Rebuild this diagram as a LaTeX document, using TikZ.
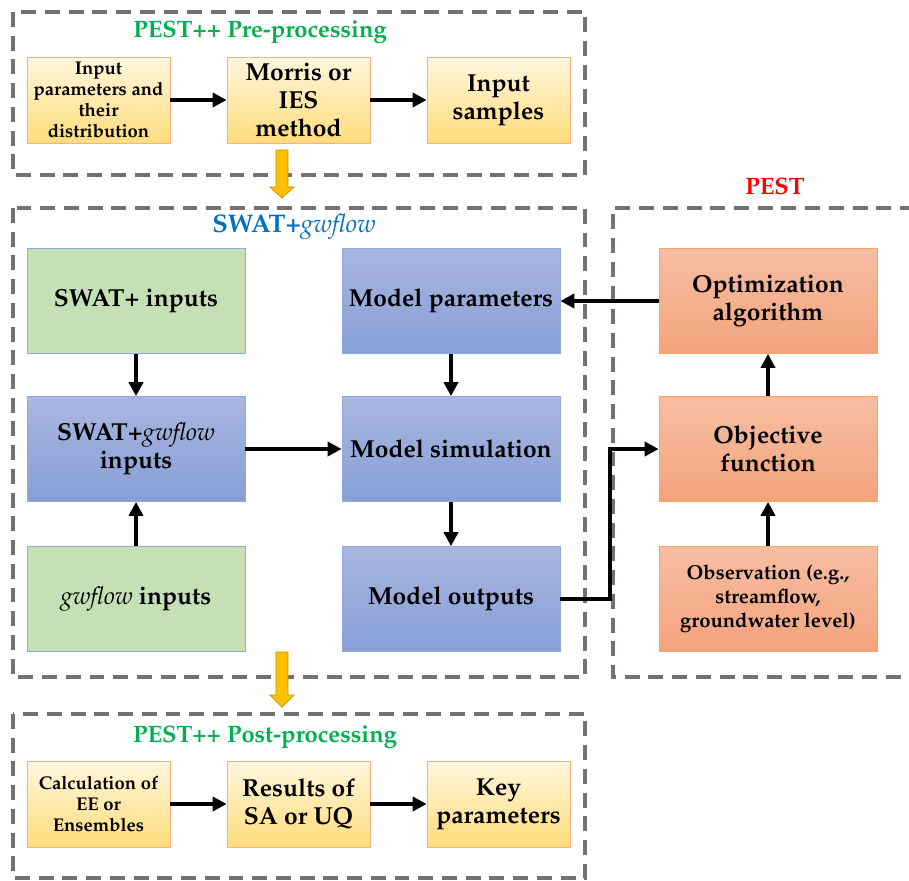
\documentclass[tikz,border=0pt]{standalone}
\usepackage[T1]{fontenc}
\usepackage{mathpazo}
\usetikzlibrary{arrows.meta}

\definecolor{yelTop}{HTML}{FFF6DC}
\definecolor{yelBot}{HTML}{FFDC7C}
\definecolor{yelLine}{HTML}{F4B183}
\definecolor{bluTop}{HTML}{A9B6DF}
\definecolor{bluBot}{HTML}{879ED7}
\definecolor{bluLine}{HTML}{8FAADC}
\definecolor{grnFill}{HTML}{C5E0B4}
\definecolor{orgTop}{HTML}{F6BEA3}
\definecolor{orgBot}{HTML}{F4A37C}
\definecolor{orgLine}{HTML}{F5A26B}
\definecolor{dashGray}{HTML}{767171}
\definecolor{arrowGold}{HTML}{FFC000}
\definecolor{arrowEdge}{HTML}{BF9000}
\definecolor{titleGreen}{HTML}{00B050}
\definecolor{titleBlue}{HTML}{0070C0}

\begin{document}
\begin{tikzpicture}[x=0.02cm,y=-0.02cm,
    >={Triangle[length=8pt,width=8pt]},
    flow/.style={->,line width=2.3pt},
    dashbox/.style={draw=dashGray,line width=2.3pt,dash pattern=on 8.5pt off 5pt},
    title/.style={font=\fontsize{13.5}{15}\selectfont\bfseries},
    smallbox/.style={draw=yelLine,top color=yelTop,bottom color=yelBot,minimum width=2.86cm,minimum height=1.72cm,align=center,inner sep=1pt},
    bigbox/.style={minimum width=4.36cm,minimum height=2.1cm,align=center,inner sep=1pt,font=\fontsize{14}{16}\selectfont\bfseries},
    greenbox/.style={bigbox,draw=bluLine,fill=grnFill},
    bluebox/.style={bigbox,draw=bluLine,top color=bluTop,bottom color=bluBot},
    orangebox/.style={bigbox,draw=orgLine,top color=orgTop,bottom color=orgBot},
    blockarrow/.style={fill=arrowGold,draw=arrowEdge,line width=0.4pt}]
    \useasboundingbox (0,0) rectangle (909,880);

    % dashed frames
    \draw[dashbox] (13,12) rectangle (585,175);
    \draw[dashbox] (13,208) rectangle (585,677);
    \draw[dashbox] (915,208) -- (613,208) -- (613,677) -- (915,677);
    \draw[dashbox] (13,714) rectangle (585,878);

    \node[title,text=titleGreen] (pretitle) at (260,32) {PEST++ Pre-processing};
    \node[title,text=titleBlue,font=\fontsize{14.5}{16}\selectfont\bfseries] (swattitle) at (294,227) {SWAT+\textit{\mdseries gwflow}};
    \node[title,text=red] (pesttitle) at (775,186) {PEST};
    \node[title,text=titleGreen] (posttitle) at (265,737) {PEST++ Post-processing};

    % pre-processing
    \node[smallbox,font=\fontsize{10.5}{12}\selectfont\bfseries] (inparams) at (98.5,100) {Input\\parameters and\\their\\distribution};
    \node[smallbox,font=\fontsize{14}{16}\selectfont\bfseries] (morris) at (298.5,100) {Morris or\\IES\\method};
    \node[smallbox,font=\fontsize{14}{16}\selectfont\bfseries] (samples) at (498.5,100) {Input\\samples};
    \draw[flow] (inparams) -- (morris);
    \draw[flow] (morris) -- (samples);

    % SWAT+gwflow
    \node[greenbox] (swatin) at (136,301) {SWAT+ inputs};
    \node[bluebox] (swatgw) at (136,449) {SWAT+\textit{\mdseries gwflow}\\inputs};
    \node[greenbox] (gwin) at (136,599) {\textit{\mdseries gwflow} inputs};
    \node[bluebox] (mparams) at (451,301) {Model parameters};
    \node[bluebox] (msim) at (451,449) {Model simulation};
    \node[bluebox] (mout) at (451,599) {Model outputs};
    \draw[flow] (swatin) -- (swatgw);
    \draw[flow] (gwin) -- (swatgw);
    \draw[flow] (swatgw) -- (msim);
    \draw[flow] (mparams) -- (msim);
    \draw[flow] (msim) -- (mout);

    % PEST
    \node[orangebox] (optim) at (768,301) {Optimization\\algorithm};
    \node[orangebox] (objfun) at (768,449) {Objective\\function};
    \node[orangebox,font=\fontsize{11.5}{13.6}\selectfont\bfseries] (obs) at (768,599) {Observation (e.g.,\\streamflow,\\groundwater level)};
    \draw[flow] (obs) -- (objfun);
    \draw[flow] (objfun) -- (optim);
    \draw[flow] (optim) -- (mparams);
    \draw[flow] (mout.east) -- ++(50,0) |- (objfun.west);

    % post-processing
    \node[smallbox,font=\fontsize{10.5}{12}\selectfont\bfseries] (calc) at (98.5,804) {Calculation of\\EE or\\Ensembles};
    \node[smallbox,font=\fontsize{14}{16}\selectfont\bfseries] (results) at (298.5,804) {Results of\\SA or UQ};
    \node[smallbox,font=\fontsize{14}{16}\selectfont\bfseries] (keypar) at (498.5,804) {Key\\parameters};
    \draw[flow] (calc) -- (results);
    \draw[flow] (results) -- (keypar);

    % yellow block arrows
    \coordinate (down1) at (282,150);
    \coordinate (down2) at (282,652);
    \draw[blockarrow] (down1) ++(-6,0) -- ++(12,0) -- ++(0,37) -- ++(6,0) -- ++(-12,11) -- ++(-12,-11) -- ++(6,0) -- cycle;
    \draw[blockarrow] (down2) ++(-6,0) -- ++(12,0) -- ++(0,43) -- ++(6,0) -- ++(-12,12) -- ++(-12,-12) -- ++(6,0) -- cycle;
\end{tikzpicture}
\end{document}
